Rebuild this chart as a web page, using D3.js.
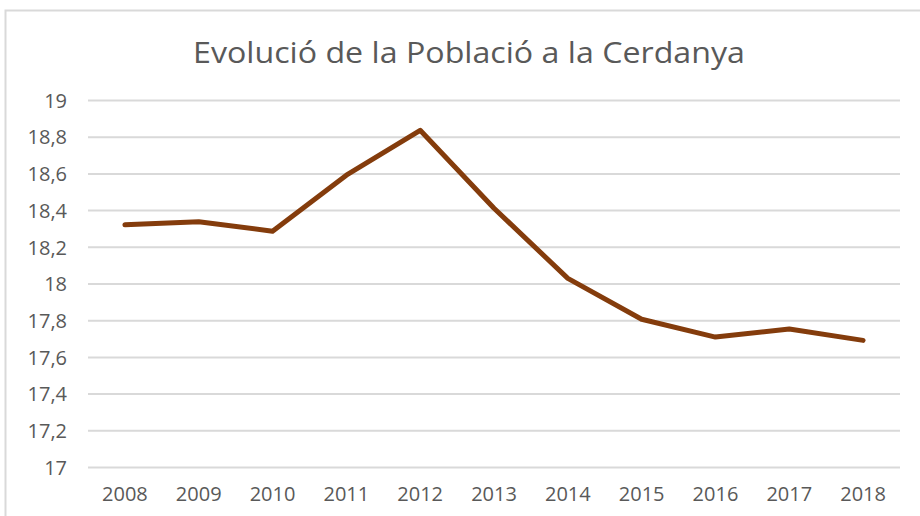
<!DOCTYPE html>
<html>
<head>
<meta charset="utf-8">
<script src="https://cdn.jsdelivr.net/npm/d3@7"></script>
<style>
  body { margin: 0; background: #fff; }
  svg { display: block; }
</style>
</head>
<body>
<div id="chart"></div>
<script>
// chart data
var years = ["2008", "2009", "2010", "2011", "2012", "2013", "2014", "2015", "2016", "2017", "2018"];
var population = [18.32, 18.337, 18.285, 18.59, 18.835, 18.41, 18.028, 17.805, 17.708, 17.752, 17.69];
var yTicks = [17, 17.2, 17.4, 17.6, 17.8, 18, 18.2, 18.4, 18.6, 18.8, 19];
var chartTitle = "Evolució de la Població a la Cerdanya";

var outterWidth = 920;
var outterHeight = 516;
var margin = {top: 100, right: 20, bottom: 49, left: 88};
var width = outterWidth - margin.left - margin.right;
var height = outterHeight - margin.top - margin.bottom;

var catalan = d3.formatLocale({decimal: ",", thousands: ".", grouping: [3], currency: ["", " €"]});
var fmt = catalan.format("~r");

var svg = d3.select("div#chart").append("svg")
  .attr("width", outterWidth)
  .attr("height", outterHeight);

// chart frame (runs off the right and bottom edge)
svg.append("rect")
  .attr("x", 5.5).attr("y", 10.5)
  .attr("width", 940).attr("height", 530)
  .style("fill", "#fff")
  .style("stroke", "#d9d9d9")
  .style("stroke-width", 2);

// title is a bit wider than the font gives, so stretch it
svg.append("text")
  .attr("x", 469).attr("y", 63)
  .attr("text-anchor", "middle")
  .attr("font-family", "Open Sans")
  .attr("font-size", "29px")
  .attr("fill", "#595959")
  .attr("textLength", 552)
  .attr("lengthAdjust", "spacingAndGlyphs")
  .text(chartTitle);

var g = svg.append("g")
  .attr("transform", "translate(" + margin.left + "," + margin.top + ")");

var x = d3.scaleBand().domain(years).range([0, width]);
var y = d3.scaleLinear().domain([17, 19]).range([height, 0]);

// gridlines + y labels
var yAxis = g.append("g")
  .call(d3.axisLeft(y).tickValues(yTicks).tickFormat(fmt).tickSize(-width).tickPadding(21));
yAxis.select(".domain").remove();
yAxis.selectAll(".tick line")
  .attr("stroke", "#d9d9d9")
  .attr("stroke-width", 2);
yAxis.selectAll(".tick text")
  .attr("font-family", "Open Sans")
  .attr("font-size", "20px")
  .attr("fill", "#595959")
  .attr("dy", "0.36em");

// x labels
var xAxis = g.append("g")
  .attr("transform", "translate(0," + height + ")")
  .call(d3.axisBottom(x).tickSize(0).tickPadding(20));
xAxis.select(".domain").remove();
xAxis.selectAll(".tick text")
  .attr("font-family", "Open Sans")
  .attr("font-size", "20px")
  .attr("fill", "#595959");

var line = d3.line()
  .x(function(d, i) { return x(years[i]) + x.bandwidth() / 2; })
  .y(function(d) { return y(d); });

g.append("path")
  .datum(population)
  .attr("d", line)
  .style("fill", "none")
  .style("stroke", "#843c0c")
  .style("stroke-width", 5)
  .style("stroke-linejoin", "round")
  .style("stroke-linecap", "round");
</script>
</body>
</html>
